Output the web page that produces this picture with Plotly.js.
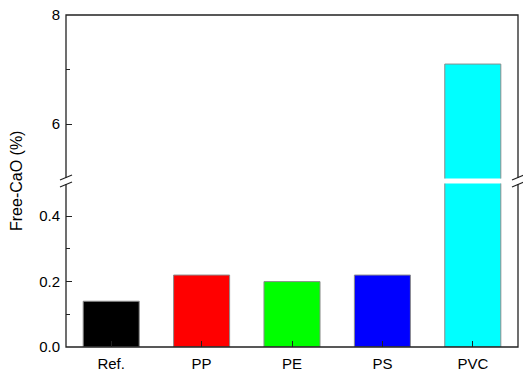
<!DOCTYPE html>
<html>
<head>
<meta charset="utf-8">
<script src="https://cdn.plot.ly/plotly-3.0.1.min.js"></script>
<style>
  html, body { margin: 0; padding: 0; background: #fff; }
  #chart { width: 523px; height: 374px; }
</style>
</head>
<body>
<div id="chart"></div>
<script>
// Free-CaO content of clinker per plastic additive
const categories = ['Ref.', 'PP', 'PE', 'PS', 'PVC'];
const freeCaO = [0.14, 0.22, 0.20, 0.22, 7.1];
const barColors = ['#000000', '#ff0000', '#00ff00', '#0000ff', '#00ffff'];

// broken y-axis: lower segment and upper segment
const lowerRange = [0, 0.5];
const upperRange = [5, 8];
const lowerTicks = [0, 0.2, 0.4];
const lowerTickText = ['0.0', '0.2', '0.4'];
const upperTicks = [6, 8];
const upperTickText = ['6', '8'];

const FONT = 'Liberation Sans, Arial, sans-serif';
const AXIS_COLOR = '#222';

const barMarker = {
  color: barColors,
  line: { color: '#8c8c8c', width: 1 }
};

const traces = [
  { type: 'bar', x: categories, y: freeCaO, xaxis: 'x', yaxis: 'y',
    marker: barMarker, hoverinfo: 'skip', showlegend: false },
  { type: 'bar', x: categories, y: freeCaO, xaxis: 'x', yaxis: 'y2',
    marker: barMarker, hoverinfo: 'skip', showlegend: false }
];

// break symbol "//" drawn across a vertical axis line at the segment junction
function breakMarks(xPaper) {
  const common = { xref: 'paper', yref: 'paper', xsizemode: 'pixel', ysizemode: 'pixel',
                   xanchor: xPaper, yanchor: 0.5, layer: 'above' };
  return [
    Object.assign({ type: 'line', x0: 0, x1: 0, y0: -3, y1: 3,
                    line: { color: '#fff', width: 4 } }, common),
    Object.assign({ type: 'line', x0: -6, x1: 6, y0: -6, y1: -1,
                    line: { color: AXIS_COLOR, width: 1.2 } }, common),
    Object.assign({ type: 'line', x0: -6, x1: 6, y0: 1, y1: 6,
                    line: { color: AXIS_COLOR, width: 1.2 } }, common)
  ];
}

const yCommon = {
  showgrid: false, zeroline: false, showline: false,
  ticks: 'inside', ticklen: 6, tickwidth: 1, tickcolor: AXIS_COLOR,
  tickfont: { family: FONT, size: 15, color: '#000' },
  ticklabelstandoff: 5, fixedrange: true
};

const layout = {
  width: 523, height: 374,
  margin: { l: 66, r: 5, t: 15, b: 27 },
  paper_bgcolor: '#fff', plot_bgcolor: '#fff',
  bargap: 0.38,
  font: { family: FONT, size: 15, color: '#000' },
  xaxis: {
    domain: [0, 1], anchor: 'y', range: [-0.5, 4.5],
    showgrid: false, zeroline: false, showline: false,
    ticks: 'inside', ticklen: 6, tickwidth: 1, tickcolor: AXIS_COLOR,
    tickfont: { family: FONT, size: 15, color: '#000' },
    ticklabelstandoff: 6, fixedrange: true
  },
  yaxis: Object.assign({}, yCommon, {
    domain: [0, 0.4925], anchor: 'x', range: lowerRange,
    tickmode: 'array', tickvals: lowerTicks, ticktext: lowerTickText,
    minor: { tickmode: 'array', tickvals: [0.1, 0.3], ticks: 'inside', ticklen: 4, tickcolor: AXIS_COLOR }
  }),
  yaxis2: Object.assign({}, yCommon, {
    domain: [0.5075, 1], anchor: 'x', range: upperRange,
    tickmode: 'array', tickvals: upperTicks, ticktext: upperTickText,
    minor: { tickmode: 'array', tickvals: [7], ticks: 'inside', ticklen: 4, tickcolor: AXIS_COLOR }
  }),
  shapes: [
    { type: 'rect', xref: 'paper', yref: 'paper', x0: 0, x1: 1, y0: 0, y1: 1,
      line: { color: AXIS_COLOR, width: 1.3 }, fillcolor: 'rgba(0,0,0,0)', layer: 'above' }
  ].concat(breakMarks(0), breakMarks(1)),
  annotations: [
    { text: 'Free-CaO (%)', xref: 'paper', yref: 'paper', x: 0, y: 0.5,
      xshift: -50, xanchor: 'center', yanchor: 'middle', textangle: -90,
      showarrow: false, font: { family: FONT, size: 16, color: '#000' } }
  ]
};

Plotly.newPlot('chart', traces, layout, { displayModeBar: false, staticPlot: true });
</script>
</body>
</html>
